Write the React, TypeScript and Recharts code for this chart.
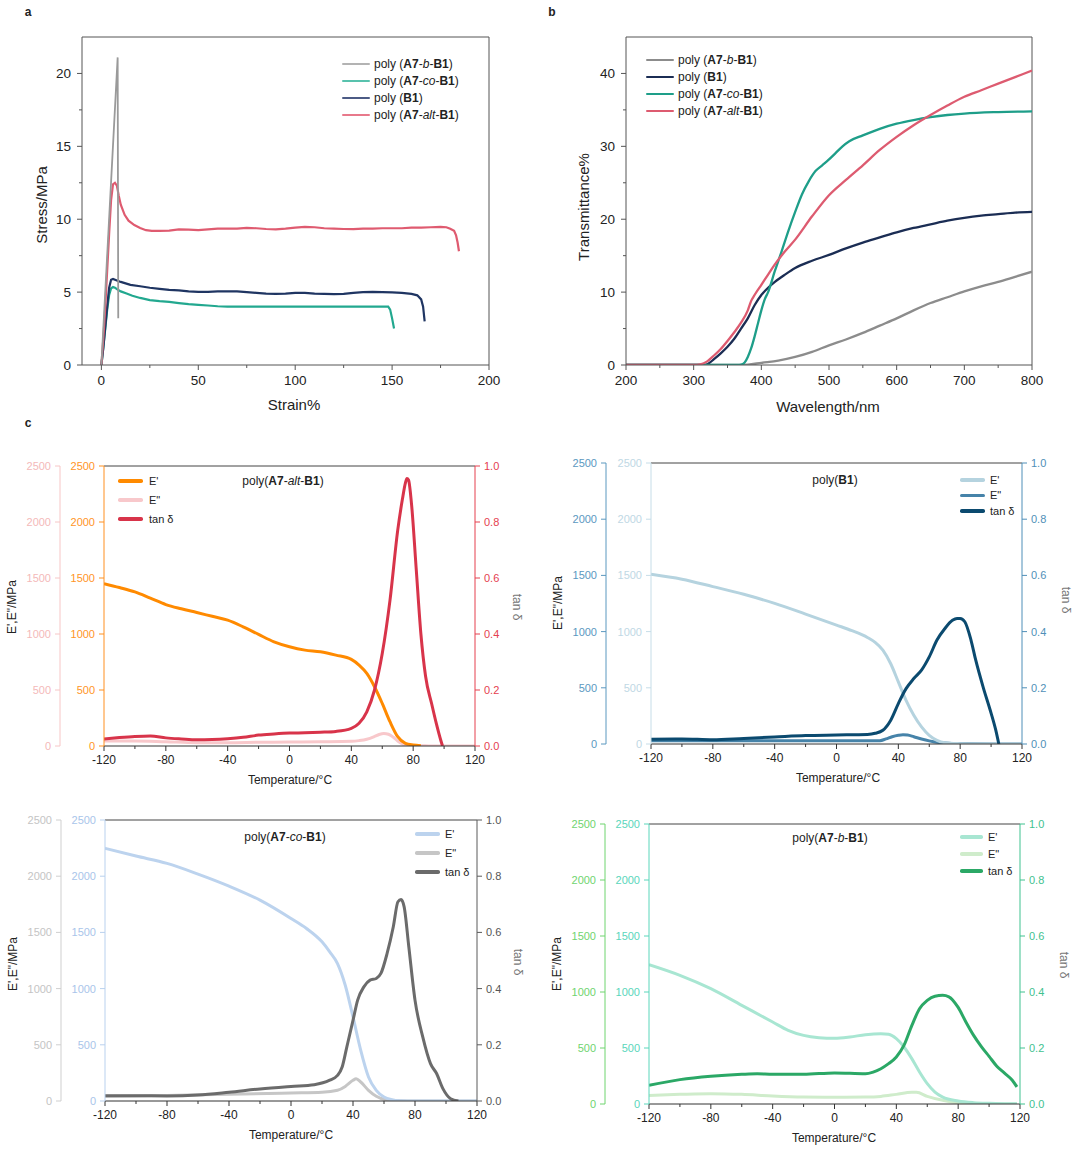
import React from "react";
import { LineChart, Line, XAxis, YAxis, ReferenceLine } from "recharts";

const FONT = '"Liberation Sans", Arial, Helvetica, sans-serif';

// ---------- a: stress / strain ----------
const strainBlock = [0, 8.4, 8.7];
const stressBlock = [0, 21.1, 3.2];

const strainAlt = [0, 1, 2, 3, 4, 5, 6, 7, 8, 9, 10, 12, 14, 17, 20, 23, 26, 30, 35, 40, 45, 50, 55, 60, 65, 70, 75, 80, 85, 90, 95, 100, 105, 110, 115, 120, 125, 130, 135, 140, 145, 150, 155, 160, 165, 170, 175, 178, 180, 182, 183, 183.8, 184.5];
const stressAlt = [0, 1.8, 4, 6.5, 9, 11.3, 12.4, 12.5, 12.3, 11.6, 11, 10.3, 9.9, 9.6, 9.4, 9.25, 9.2, 9.2, 9.22, 9.3, 9.28, 9.25, 9.3, 9.35, 9.35, 9.35, 9.4, 9.38, 9.33, 9.3, 9.35, 9.42, 9.48, 9.45, 9.38, 9.35, 9.33, 9.32, 9.35, 9.36, 9.38, 9.38, 9.38, 9.42, 9.42, 9.45, 9.47, 9.45, 9.35, 9.2, 8.9, 8.4, 7.8];

const strainB1 = [0, 1, 2, 3, 4, 5, 6, 8, 10, 15, 20, 25, 30, 35, 40, 45, 50, 55, 60, 65, 70, 75, 80, 85, 90, 95, 100, 105, 110, 115, 120, 125, 130, 135, 140, 145, 150, 155, 160, 163, 165, 166, 166.8];
const stressB1 = [0, 1.2, 2.6, 4, 5.3, 5.85, 5.9, 5.8, 5.7, 5.5, 5.4, 5.3, 5.22, 5.15, 5.12, 5.05, 5.02, 5.02, 5.05, 5.05, 5.05, 5.0, 4.95, 4.9, 4.88, 4.9, 4.95, 4.95, 4.9, 4.88, 4.86, 4.88, 4.95, 5.0, 5.02, 5.0, 4.98, 4.95, 4.88, 4.78, 4.5, 4.0, 3.0];

const strainCo = [0, 1, 2, 3, 4, 5, 6, 7, 8, 10, 13, 16, 20, 25, 30, 35, 40, 45, 50, 55, 60, 65, 70, 80, 90, 100, 110, 120, 130, 140, 145, 148, 149, 150, 151];
const stressCo = [0, 1.2, 2.5, 3.8, 4.8, 5.25, 5.35, 5.3, 5.2, 5.05, 4.9, 4.75, 4.6, 4.45, 4.38, 4.33, 4.25, 4.17, 4.12, 4.08, 4.03, 4.0, 4.0, 4.0, 4.0, 4.0, 4.0, 4.0, 4.0, 4.0, 4.0, 4.0, 3.8, 3.2, 2.5];

const strainTicks = [0, 25, 50, 75, 100, 125, 150, 175, 200];
const strainMajor = [0, 50, 100, 150, 200];
const stressTicks = [0, 2.5, 5, 7.5, 10, 12.5, 15, 17.5, 20];
const stressMajor = [0, 5, 10, 15, 20];

// ---------- b: transmittance ----------
const wlBlock = [200, 250, 300, 350, 370, 380, 400, 425, 450, 475, 500, 525, 550, 575, 600, 625, 650, 675, 700, 725, 750, 775, 800];
const trBlock = [0, 0, 0, 0, 0, 0.05, 0.3, 0.6, 1.1, 1.8, 2.7, 3.5, 4.4, 5.4, 6.4, 7.5, 8.5, 9.3, 10.1, 10.8, 11.4, 12.1, 12.8];

const wlB1 = [200, 250, 300, 315, 320, 330, 340, 350, 360, 370, 380, 390, 400, 410, 420, 435, 450, 475, 500, 525, 550, 575, 600, 625, 650, 675, 700, 725, 750, 775, 800];
const trB1 = [0, 0, 0, 0, 0.1, 0.8, 1.6, 2.5, 3.6, 5, 6.4, 8.2, 9.6, 10.6, 11.4, 12.4, 13.3, 14.3, 15.1, 16.0, 16.8, 17.5, 18.2, 18.8, 19.3, 19.8, 20.2, 20.5, 20.7, 20.9, 21.0];

const wlAlt = [200, 250, 300, 310, 320, 330, 340, 350, 360, 370, 380, 385, 390, 400, 410, 420, 435, 450, 475, 500, 525, 550, 575, 600, 625, 650, 675, 700, 725, 750, 775, 800];
const trAlt = [0, 0, 0, 0.1, 0.5, 1.3, 2.2, 3.3, 4.5, 5.8, 7.5, 8.8, 9.6, 11, 12.4, 13.8, 15.6, 17.2, 20.4, 23.3, 25.4, 27.4, 29.5, 31.3, 32.9, 34.3, 35.6, 36.8, 37.7, 38.6, 39.5, 40.4];

const wlCo = [200, 250, 300, 350, 365, 370, 375, 380, 385, 390, 395, 400, 405, 410, 420, 430, 440, 450, 460, 470, 480, 490, 500, 510, 520, 530, 550, 575, 600, 625, 650, 675, 700, 750, 800];
const trCo = [0, 0, 0, 0, 0, 0.05, 0.3, 1.1, 2.3, 3.9, 5.7, 7.5, 9.0, 10.0, 12.9, 15.6, 18.4, 21.0, 23.4, 25.2, 26.6, 27.4, 28.2, 29.1, 30.0, 30.7, 31.5, 32.4, 33.1, 33.6, 34.0, 34.3, 34.5, 34.7, 34.8];

const wlTicks = [200, 250, 300, 350, 400, 450, 500, 550, 600, 650, 700, 750, 800];
const wlMajor = [200, 300, 400, 500, 600, 700, 800];
const trTicks = [0, 5, 10, 15, 20, 25, 30, 35, 40];
const trMajor = [0, 10, 20, 30, 40];

// ---------- c: DMA ----------
const tempTicks = [-120, -100, -80, -60, -40, -20, 0, 20, 40, 60, 80, 100, 120];
const tempMajor = [-120, -80, -40, 0, 40, 80, 120];
const modTicks = [0, 500, 1000, 1500, 2000, 2500];
const tanTicks = [0, 0.2, 0.4, 0.6, 0.8, 1.0];

// poly(A7-alt-B1)
const altT1 = [-120, -110, -100, -90, -80, -70, -60, -50, -40, -30, -20, -10, 0, 10, 20, 30, 40, 45, 50, 55, 60, 65, 70, 75, 80, 85];
const altStorage = [1450, 1415, 1376, 1320, 1263, 1225, 1192, 1158, 1124, 1064, 996, 930, 886, 856, 841, 811, 773, 722, 648, 529, 380, 217, 83, 24, 9, 3];
const altT2 = [-120, -100, -80, -60, -40, -20, 0, 20, 40, 45, 50, 55, 58, 61, 64, 67, 70, 73, 76, 80, 90, 100, 110, 120];
const altLoss = [45, 45, 38, 30, 30, 33, 35, 38, 42, 48, 60, 85, 103, 112, 105, 80, 45, 20, 8, 3, 1, 0, 0, 0];
const altT3 = [-120, -110, -100, -90, -80, -70, -60, -50, -40, -30, -20, -10, 0, 10, 20, 30, 40, 45, 50, 55, 60, 65, 70, 73, 75, 76, 77, 79, 82, 85, 88, 92, 95, 98, 99];
const altTan = [0.025, 0.03, 0.034, 0.036, 0.029, 0.025, 0.022, 0.023, 0.026, 0.031, 0.039, 0.043, 0.046, 0.047, 0.049, 0.052, 0.063, 0.081, 0.122, 0.2, 0.33, 0.52, 0.77, 0.88, 0.94, 0.955, 0.95, 0.86, 0.63, 0.4, 0.25, 0.15, 0.08, 0.018, 0];

// poly(B1)
const b1T1 = [-120, -100, -80, -60, -40, -20, 0, 10, 20, 25, 30, 35, 40, 45, 50, 55, 60, 65, 70, 80, 90, 100, 110, 120];
const b1Storage = [1510, 1466, 1400, 1332, 1251, 1156, 1058, 1008, 948, 904, 835, 716, 553, 389, 256, 152, 77, 33, 12, 3, 0, 0, 0, 0];
const b1T2 = [-120, -80, -40, 0, 20, 28, 32, 36, 40, 43, 46, 50, 55, 60, 65, 70, 80, 100, 120];
const b1Loss = [30, 28, 28, 28, 28, 30, 45, 65, 78, 83, 80, 65, 45, 28, 15, 8, 2, 0, 0];
const b1T3 = [-120, -100, -80, -60, -40, -20, 0, 20, 25, 30, 35, 40, 45, 50, 55, 60, 65, 70, 75, 78, 80, 83, 87, 90, 95, 100, 103, 105];
const b1Tan = [0.017, 0.018, 0.015, 0.02, 0.025, 0.03, 0.032, 0.034, 0.038, 0.049, 0.084, 0.144, 0.197, 0.233, 0.263, 0.31, 0.37, 0.41, 0.44, 0.447, 0.447, 0.435, 0.37, 0.3, 0.2, 0.11, 0.05, 0];

// poly(A7-co-B1)
const coT1 = [-120, -100, -80, -60, -40, -20, 0, 10, 20, 25, 30, 35, 40, 45, 50, 55, 60, 65, 70, 80, 90, 100, 120];
const coStorage = [2248, 2179, 2114, 2019, 1912, 1787, 1624, 1535, 1416, 1327, 1223, 1030, 748, 451, 214, 95, 36, 12, 3, 0, 0, 0, 0];
const coT2 = [-120, -80, -40, 0, 20, 30, 35, 40, 42, 45, 50, 55, 60, 70, 80, 100, 120];
const coLoss = [42, 50, 59, 71, 77, 95, 130, 184, 199, 169, 95, 42, 15, 2, 0, 0, 0];
const coT3 = [-120, -100, -80, -60, -40, -20, 0, 15, 25, 30, 33, 36, 40, 43, 47, 51, 55, 58, 62, 66, 69, 71, 73, 76, 80, 85, 90, 94, 98, 103, 108];
const coTan = [0.019, 0.019, 0.018, 0.021, 0.031, 0.043, 0.052, 0.058, 0.074, 0.091, 0.121, 0.192, 0.287, 0.359, 0.406, 0.43, 0.436, 0.454, 0.525, 0.62, 0.709, 0.717, 0.691, 0.549, 0.359, 0.228, 0.133, 0.097, 0.044, 0.008, 0];

// poly(A7-b-B1)
const blT1 = [-120, -100, -80, -60, -40, -30, -20, -10, 0, 10, 20, 30, 35, 40, 45, 50, 55, 60, 65, 70, 80, 90, 100, 110, 118];
const blStorage = [1244, 1149, 1030, 881, 732, 658, 613, 592, 586, 598, 619, 628, 622, 583, 509, 405, 286, 182, 107, 62, 27, 12, 6, 3, 2];
const blT2 = [-120, -100, -80, -60, -40, -20, 0, 20, 30, 40, 50, 53, 60, 70, 80, 100, 118];
const blLoss = [77, 86, 92, 86, 71, 62, 60, 62, 68, 86, 104, 104, 68, 33, 12, 3, 0];
const blT3 = [-120, -100, -80, -60, -50, -40, -20, 0, 20, 25, 30, 35, 40, 45, 50, 55, 60, 65, 70, 74, 80, 85, 90, 95, 100, 105, 110, 115, 118];
const blTan = [0.067, 0.087, 0.099, 0.106, 0.108, 0.106, 0.106, 0.111, 0.108, 0.114, 0.126, 0.144, 0.168, 0.21, 0.28, 0.34, 0.37, 0.385, 0.388, 0.383, 0.345, 0.293, 0.245, 0.205, 0.17, 0.135, 0.11, 0.085, 0.061];

const pts = (xs: number[], ys: number[]) => xs.map((x, i) => ({ x, y: ys[i] }));

type TickOpts = {
  side: "bottom" | "left" | "right";
  majors: number[];
  len: number;
  minor: number;
  gap: number;
  size: number;
  color: string;
  line: string;
  fmt?: (v: number) => string;
};

// draws its own tick line so minor ticks can be shorter and unlabelled
const makeTick = (o: TickOpts) => (p: any) => {
  const v = Number(p.payload.value);
  const major = o.majors.some((m) => Math.abs(m - v) < 1e-9);
  const L = major ? o.len : o.minor;
  const label = o.fmt ? o.fmt(v) : String(v);
  if (o.side === "bottom") {
    const y0 = p.y - o.len - o.gap;
    return (
      <g>
        <line x1={p.x} x2={p.x} y1={y0} y2={y0 + L} stroke={o.line} />
        {major && (
          <text x={p.x} y={p.y} dy="0.75em" textAnchor="middle" fontSize={o.size} fill={o.color}>
            {label}
          </text>
        )}
      </g>
    );
  }
  const dir = o.side === "left" ? -1 : 1;
  const x0 = p.x - dir * (o.len + o.gap);
  return (
    <g>
      <line x1={x0} x2={x0 + dir * L} y1={p.y} y2={p.y} stroke={o.line} />
      {major && (
        <text x={p.x} y={p.y} dy="0.36em" textAnchor={dir < 0 ? "end" : "start"} fontSize={o.size} fill={o.color}>
          {label}
        </text>
      )}
    </g>
  );
};

function Txt({ x, y, size = 12, rot = 0, color = "#222", bold = false, children }: any) {
  return (
    <div
      style={{
        position: "absolute",
        left: x,
        top: y,
        transform: `translate(-50%, -50%) rotate(${rot}deg)`,
        fontSize: size,
        color,
        fontWeight: bold ? 700 : 400,
        whiteSpace: "nowrap",
        lineHeight: 1,
      }}
    >
      {children}
    </div>
  );
}

function Legend2({ x, y, gap, len, thick, textX, size, items }: any) {
  return (
    <>
      {items.map((it: any, i: number) => (
        <div key={i} style={{ position: "absolute", left: x, top: y + i * gap - 8, height: 16, display: "flex", alignItems: "center", whiteSpace: "nowrap" }}>
          <div style={{ width: len, height: thick, background: it.color, borderRadius: thick / 2 }} />
          <div style={{ marginLeft: textX - x - len, fontSize: size, color: "#222", lineHeight: 1 }}>{it.label}</div>
        </div>
      ))}
    </>
  );
}

const poly = (a: string, mid?: string) =>
  mid ? (
    <>
      poly (<b>A7</b>-<i>{mid}</i>-<b>B1</b>)
    </>
  ) : (
    <>
      poly (<b>B1</b>)
    </>
  );

const polyT = (mid?: string) =>
  mid ? (
    <>
      poly(<b>A7</b>-<i>{mid}</i>-<b>B1</b>)
    </>
  ) : (
    <>
      poly(<b>B1</b>)
    </>
  );

function PanelA() {
  const ax = "#555";
  return (
    <div style={{ position: "absolute", left: 0, top: 0 }}>
      <LineChart width={520} height={420} margin={{ top: 37, right: 31, left: 32, bottom: 25 }}>
        <XAxis
          dataKey="x"
          type="number"
          domain={[-10, 200]}
          allowDataOverflow
          ticks={strainTicks}
          interval={0}
          height={30}
          tickSize={5}
          tickMargin={5}
          tickLine={false}
          axisLine={{ stroke: ax }}
          tick={makeTick({ side: "bottom", majors: strainMajor, len: 5, minor: 3, gap: 5, size: 13.5, color: "#222", line: ax })}
        />
        <YAxis
          type="number"
          domain={[0, 22.5]}
          allowDataOverflow
          ticks={stressTicks}
          interval={0}
          width={50}
          tickSize={5}
          tickMargin={6}
          tickLine={false}
          axisLine={{ stroke: ax }}
          tick={makeTick({ side: "left", majors: stressMajor, len: 5, minor: 3, gap: 6, size: 13.5, color: "#222", line: ax })}
        />
        <ReferenceLine y={22.5} stroke={ax} />
        <ReferenceLine x={200} stroke={ax} />
        <Line data={pts(strainCo, stressCo)} dataKey="y" type="linear" stroke="#22a88f" strokeWidth={2.2} dot={false} isAnimationActive={false} />
        <Line data={pts(strainB1, stressB1)} dataKey="y" type="linear" stroke="#1f3562" strokeWidth={2.2} dot={false} isAnimationActive={false} />
        <Line data={pts(strainAlt, stressAlt)} dataKey="y" type="linear" stroke="#df5b70" strokeWidth={2.2} dot={false} isAnimationActive={false} />
        <Line data={pts(strainBlock, stressBlock)} dataKey="y" type="linear" stroke="#9a9a9a" strokeWidth={1.8} dot={false} isAnimationActive={false} />
      </LineChart>
    </div>
  );
}

function PanelB() {
  const ax = "#555";
  return (
    <div style={{ position: "absolute", left: 540, top: 0 }}>
      <LineChart width={520} height={420} margin={{ top: 37, right: 28, left: 36, bottom: 25 }}>
        <XAxis
          dataKey="x"
          type="number"
          domain={[200, 800]}
          allowDataOverflow
          ticks={wlTicks}
          interval={0}
          height={30}
          tickSize={5}
          tickMargin={5}
          tickLine={false}
          axisLine={{ stroke: ax }}
          tick={makeTick({ side: "bottom", majors: wlMajor, len: 5, minor: 3, gap: 5, size: 13.5, color: "#222", line: ax })}
        />
        <YAxis
          type="number"
          domain={[0, 45]}
          allowDataOverflow
          ticks={trTicks}
          interval={0}
          width={50}
          tickSize={5}
          tickMargin={6}
          tickLine={false}
          axisLine={{ stroke: ax }}
          tick={makeTick({ side: "left", majors: trMajor, len: 5, minor: 3, gap: 6, size: 13.5, color: "#222", line: ax })}
        />
        <ReferenceLine y={45} stroke={ax} />
        <ReferenceLine x={800} stroke={ax} />
        <Line data={pts(wlBlock, trBlock)} dataKey="y" type="monotone" stroke="#8c8c8c" strokeWidth={2.3} dot={false} isAnimationActive={false} />
        <Line data={pts(wlB1, trB1)} dataKey="y" type="monotone" stroke="#1b2d54" strokeWidth={2.3} dot={false} isAnimationActive={false} />
        <Line data={pts(wlCo, trCo)} dataKey="y" type="monotone" stroke="#1e9e89" strokeWidth={2.3} dot={false} isAnimationActive={false} />
        <Line data={pts(wlAlt, trAlt)} dataKey="y" type="monotone" stroke="#dd5b70" strokeWidth={2.3} dot={false} isAnimationActive={false} />
      </LineChart>
    </div>
  );
}

type DmaProps = {
  left: number;
  top: number;
  width: number;
  height: number;
  margin: { top: number; right: number; bottom: number; left: number };
  innerW: number;
  c: {
    outer: string;
    outerText: string;
    inner: string;
    innerText: string;
    right: string;
    rightText: string;
    storage: string;
    loss: string;
    tan: string;
  };
  storage: { x: number; y: number }[];
  loss: { x: number; y: number }[];
  tan: { x: number; y: number }[];
};

function Dma({ left, top, width, height, margin, innerW, c, storage, loss, tan }: DmaProps) {
  const xc = "#333";
  return (
    <div style={{ position: "absolute", left, top }}>
      <LineChart width={width} height={height} margin={margin}>
        <XAxis
          dataKey="x"
          type="number"
          domain={[-120, 120]}
          allowDataOverflow
          ticks={tempTicks}
          interval={0}
          height={30}
          tickSize={5}
          tickMargin={4}
          tickLine={false}
          axisLine={{ stroke: xc }}
          tick={makeTick({ side: "bottom", majors: tempMajor, len: 5, minor: 3, gap: 4, size: 12, color: "#222", line: xc })}
        />
        <YAxis
          yAxisId="inner"
          type="number"
          domain={[0, 2500]}
          allowDataOverflow
          ticks={modTicks}
          interval={0}
          width={innerW}
          tickSize={5}
          tickMargin={4}
          tickLine={false}
          axisLine={{ stroke: c.inner }}
          tick={makeTick({ side: "left", majors: modTicks, len: 5, minor: 3, gap: 4, size: 11, color: c.innerText, line: c.inner })}
        />
        <YAxis
          yAxisId="outer"
          type="number"
          domain={[0, 2500]}
          allowDataOverflow
          ticks={modTicks}
          interval={0}
          width={40}
          tickSize={5}
          tickMargin={4}
          tickLine={false}
          axisLine={{ stroke: c.outer }}
          tick={makeTick({ side: "left", majors: modTicks, len: 5, minor: 3, gap: 4, size: 11, color: c.outerText, line: c.outer })}
        />
        <YAxis
          yAxisId="right"
          orientation="right"
          type="number"
          domain={[0, 1]}
          allowDataOverflow
          ticks={tanTicks}
          interval={0}
          width={40}
          tickSize={5}
          tickMargin={4}
          tickLine={false}
          axisLine={{ stroke: c.right }}
          tick={makeTick({ side: "right", majors: tanTicks, len: 5, minor: 3, gap: 4, size: 11, color: c.rightText, line: c.right, fmt: (v) => v.toFixed(1) })}
        />
        <ReferenceLine yAxisId="inner" y={2500} stroke="#444" />
        <Line yAxisId="outer" data={loss} dataKey="y" type="monotone" stroke={c.loss} strokeWidth={3} dot={false} isAnimationActive={false} />
        <Line yAxisId="inner" data={storage} dataKey="y" type="monotone" stroke={c.storage} strokeWidth={3} dot={false} isAnimationActive={false} />
        <Line yAxisId="right" data={tan} dataKey="y" type="monotone" stroke={c.tan} strokeWidth={3} dot={false} isAnimationActive={false} />
      </LineChart>
    </div>
  );
}

export default function App() {
  return (
    <div style={{ position: "absolute", left: 0, top: 0, width: 1080, height: 1150, background: "#fff", fontFamily: FONT, overflow: "hidden" }}>
      <PanelA />
      <PanelB />

      <Dma
        left={0}
        top={420}
        width={540}
        height={380}
        margin={{ top: 46, right: 25, left: 20, bottom: 24 }}
        innerW={44}
        c={{ outer: "#f7c6c6", outerText: "#f4b9b9", inner: "#ff9020", innerText: "#ff9526", right: "#e5404f", rightText: "#e5404f", storage: "#ff8a00", loss: "#f8c8cb", tan: "#d8344a" }}
        storage={pts(altT1, altStorage)}
        loss={pts(altT2, altLoss)}
        tan={pts(altT3, altTan)}
      />
      <Dma
        left={540}
        top={420}
        width={540}
        height={380}
        margin={{ top: 43, right: 18, left: 26, bottom: 26 }}
        innerW={45}
        c={{ outer: "#5b98bf", outerText: "#5b98bf", inner: "#c6dde8", innerText: "#c0d8e4", right: "#4f8fb8", rightText: "#4f8fb8", storage: "#b5d3df", loss: "#4683a9", tan: "#0b4a6f" }}
        storage={pts(b1T1, b1Storage)}
        loss={pts(b1T2, b1Loss)}
        tan={pts(b1T3, b1Tan)}
      />
      <Dma
        left={0}
        top={790}
        width={540}
        height={360}
        margin={{ top: 30, right: 23, left: 21, bottom: 19 }}
        innerW={44}
        c={{ outer: "#cfcfcf", outerText: "#c4c4c4", inner: "#b9d1ee", innerText: "#a9c5ea", right: "#5a5a5a", rightText: "#555", storage: "#bcd3ee", loss: "#c6c6c6", tan: "#6b6b6b" }}
        storage={pts(coT1, coStorage)}
        loss={pts(coT2, coLoss)}
        tan={pts(coT3, coTan)}
      />
      <Dma
        left={540}
        top={790}
        width={540}
        height={360}
        margin={{ top: 34, right: 20, left: 25, bottom: 16 }}
        innerW={44}
        c={{ outer: "#6fd46f", outerText: "#6fd46f", inner: "#5ad6bb", innerText: "#5ad6bb", right: "#3fc28f", rightText: "#3fc28f", storage: "#a8e6d2", loss: "#cfeccb", tan: "#2ba866" }}
        storage={pts(blT1, blStorage)}
        loss={pts(blT2, blLoss)}
        tan={pts(blT3, blTan)}
      />

      {/* panel letters */}
      <Txt x={28} y={12} size={12} bold>a</Txt>
      <Txt x={552} y={12} size={12} bold>b</Txt>
      <Txt x={28} y={423} size={12} bold>c</Txt>

      {/* a */}
      <Txt x={41} y={205} size={15} rot={-90}>Stress/MPa</Txt>
      <Txt x={294} y={404} size={15}>Strain%</Txt>
      <Legend2
        x={342}
        y={64}
        gap={17}
        len={28}
        thick={2}
        textX={374}
        size={12}
        items={[
          { color: "#b3b3b3", label: poly("", "b") },
          { color: "#58c2ad", label: poly("", "co") },
          { color: "#4c5b85", label: poly("") },
          { color: "#e8798b", label: poly("", "alt") },
        ]}
      />

      {/* b */}
      <Txt x={583} y={207} size={15} rot={-90}>Transmittance%</Txt>
      <Txt x={828} y={406} size={15}>Wavelength/nm</Txt>
      <Legend2
        x={646}
        y={60}
        gap={17}
        len={28}
        thick={2.5}
        textX={678}
        size={12}
        items={[
          { color: "#8c8c8c", label: poly("", "b") },
          { color: "#1b2d54", label: poly("") },
          { color: "#1e9e89", label: poly("", "co") },
          { color: "#dd5b70", label: poly("", "alt") },
        ]}
      />

      {/* c: alt */}
      <Txt x={12} y={607} rot={-90}>E',E"/MPa</Txt>
      <Txt x={517} y={607} rot={90} color="#777">tan δ</Txt>
      <Txt x={290} y={780}>Temperature/°C</Txt>
      <Txt x={283} y={481}>{polyT("alt")}</Txt>
      <Legend2 x={118} y={481} gap={19} len={25} thick={3.5} textX={149} size={11}
        items={[{ color: "#ff8a00", label: "E'" }, { color: "#f8c8cb", label: 'E"' }, { color: "#d8344a", label: "tan δ" }]} />

      {/* c: B1 */}
      <Txt x={558} y={603} rot={-90}>E',E"/MPa</Txt>
      <Txt x={1066} y={600} rot={90} color="#777">tan δ</Txt>
      <Txt x={838} y={778}>Temperature/°C</Txt>
      <Txt x={835} y={480}>{polyT()}</Txt>
      <Legend2 x={960} y={480} gap={15.5} len={25} thick={3.5} textX={990} size={11}
        items={[{ color: "#b5d3df", label: "E'" }, { color: "#4683a9", label: 'E"' }, { color: "#0b4a6f", label: "tan δ" }]} />

      {/* c: co */}
      <Txt x={13} y={964} rot={-90}>E',E"/MPa</Txt>
      <Txt x={518} y={962} rot={90} color="#777">tan δ</Txt>
      <Txt x={291} y={1135}>Temperature/°C</Txt>
      <Txt x={285} y={837}>{polyT("co")}</Txt>
      <Legend2 x={415} y={834} gap={19} len={25} thick={3.5} textX={445} size={11}
        items={[{ color: "#bcd3ee", label: "E'" }, { color: "#c6c6c6", label: 'E"' }, { color: "#6b6b6b", label: "tan δ" }]} />

      {/* c: block */}
      <Txt x={557} y={964} rot={-90}>E',E"/MPa</Txt>
      <Txt x={1064} y={965} rot={90} color="#777">tan δ</Txt>
      <Txt x={834} y={1138}>Temperature/°C</Txt>
      <Txt x={830} y={838}>{polyT("b")}</Txt>
      <Legend2 x={960} y={837} gap={17} len={23} thick={3.5} textX={988} size={11}
        items={[{ color: "#a8e6d2", label: "E'" }, { color: "#cfeccb", label: 'E"' }, { color: "#2ba866", label: "tan δ" }]} />
    </div>
  );
}
